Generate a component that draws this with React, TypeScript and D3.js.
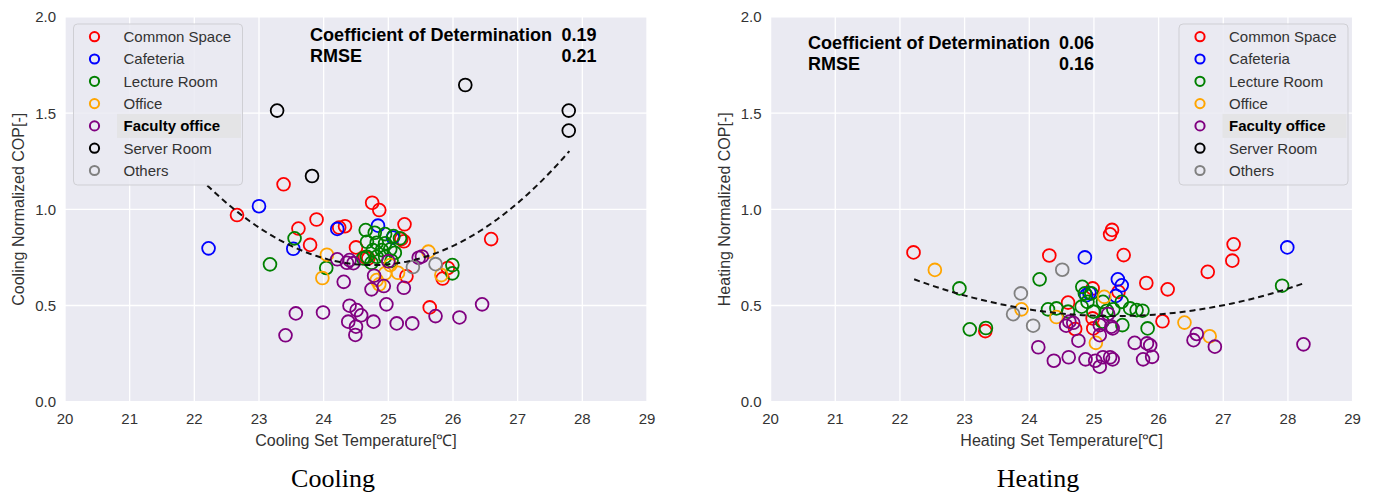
import React from "react";
import * as d3 from "d3";

type Pt = [number, number];

const categories = ["Common Space", "Cafeteria", "Lecture Room", "Office", "Faculty office", "Server Room", "Others"];
const categoryColors = ["#ff0000", "#0000ff", "#008000", "#ffa500", "#800080", "#000000", "#808080"];
const highlightedCategory = "Faculty office";

const xTicks = [20, 21, 22, 23, 24, 25, 26, 27, 28, 29];
const yTicks = [0, 0.5, 1, 1.5, 2];

// Cooling panel points, per category (set temperature, normalized COP)
const coolCommonSpace: Pt[] = [
  [22.66, 0.97], [23.38, 1.13], [23.61, 0.9], [23.79, 0.815], [23.89, 0.947], [24.24, 0.905],
  [24.33, 0.912], [24.5, 0.802], [24.69, 0.745], [24.64, 0.752], [24.75, 1.034], [24.86, 0.996],
  [25.25, 0.922], [25.24, 0.834], [25.2, 0.845], [25.28, 0.652], [25.64, 0.49], [25.84, 0.64],
  [25.92, 0.695], [26.59, 0.845],
];
const coolCafeteria: Pt[] = [[22.22, 0.797], [23.0, 1.016], [23.53, 0.795], [24.21, 0.898], [24.84, 0.915], [25.07, 0.853]];
const coolLectureRoom: Pt[] = [
  [23.17, 0.714], [23.55, 0.849], [24.04, 0.695], [25.99, 0.71], [25.99, 0.667],
  [24.65, 0.892], [24.79, 0.878], [24.95, 0.871], [25.08, 0.861], [25.18, 0.849], [24.67, 0.831],
  [24.82, 0.826], [24.95, 0.823], [24.76, 0.788], [24.9, 0.788], [25.03, 0.792], [25.1, 0.774],
  [24.67, 0.753], [24.82, 0.753], [24.95, 0.753], [25.05, 0.732], [24.74, 0.722], [24.61, 0.745],
];
const coolOffice: Pt[] = [
  [23.98, 0.643], [24.05, 0.764], [24.82, 0.632], [24.86, 0.61], [24.95, 0.667], [25.03, 0.71],
  [25.15, 0.67], [25.62, 0.78], [25.82, 0.658],
];
const coolFacultyOffice: Pt[] = [
  [23.41, 0.345], [23.57, 0.459], [23.99, 0.464], [24.21, 0.74], [24.31, 0.623], [24.36, 0.722],
  [24.4, 0.736], [24.4, 0.499], [24.46, 0.72], [24.38, 0.416], [24.5, 0.39], [24.49, 0.347],
  [24.51, 0.476], [24.58, 0.449], [24.74, 0.584], [24.77, 0.416], [24.78, 0.655], [24.93, 0.601],
  [24.97, 0.506], [25.0, 0.73], [25.13, 0.407], [25.24, 0.592], [25.37, 0.407], [25.47, 0.748],
  [25.52, 0.755], [25.73, 0.445], [26.1, 0.438], [26.45, 0.506],
];
const coolServerRoom: Pt[] = [[23.28, 1.513], [23.82, 1.173], [26.19, 1.646], [27.79, 1.513], [27.79, 1.409]];
const coolOthers: Pt[] = [[25.38, 0.7], [25.73, 0.715]];

// Heating panel points
const heatCommonSpace: Pt[] = [
  [22.21, 0.776], [23.32, 0.367], [24.31, 0.76], [24.6, 0.515], [24.71, 0.378], [24.98, 0.589],
  [24.98, 0.433], [24.99, 0.381], [25.25, 0.87], [25.28, 0.893], [25.38, 0.571], [25.46, 0.762],
  [25.81, 0.617], [26.06, 0.418], [26.14, 0.584], [26.76, 0.675], [27.14, 0.733], [27.16, 0.818],
];
const heatCafeteria: Pt[] = [[24.86, 0.75], [24.88, 0.553], [24.93, 0.565], [25.34, 0.55], [25.37, 0.636], [25.43, 0.605], [27.99, 0.802]];
const heatLectureRoom: Pt[] = [
  [22.92, 0.589], [23.08, 0.376], [23.33, 0.383], [24.16, 0.636], [24.29, 0.48], [24.42, 0.485],
  [24.6, 0.468], [24.81, 0.494], [24.82, 0.597], [24.86, 0.563], [24.9, 0.519], [24.96, 0.563],
  [24.99, 0.468], [25.13, 0.416], [25.14, 0.519], [25.2, 0.473], [25.3, 0.48], [25.43, 0.519],
  [25.44, 0.398], [25.56, 0.485], [25.66, 0.476], [25.75, 0.473], [25.83, 0.381], [27.91, 0.603],
];
const heatOffice: Pt[] = [[22.54, 0.685], [23.88, 0.48], [24.42, 0.44], [25.03, 0.306], [25.16, 0.545], [26.4, 0.411], [26.79, 0.34]];
const heatFacultyOffice: Pt[] = [
  [24.14, 0.283], [24.38, 0.213], [24.57, 0.395], [24.61, 0.231], [24.62, 0.416], [24.68, 0.41],
  [24.76, 0.317], [24.87, 0.22], [25.02, 0.213], [25.09, 0.182], [25.09, 0.346], [25.09, 0.398],
  [25.14, 0.231], [25.22, 0.456], [25.25, 0.231], [25.27, 0.39], [25.29, 0.22], [25.29, 0.381],
  [25.63, 0.306], [25.76, 0.22], [25.82, 0.303], [25.87, 0.293], [25.9, 0.233], [26.54, 0.32],
  [26.59, 0.352], [26.87, 0.286], [28.24, 0.298],
];
const heatServerRoom: Pt[] = [];
const heatOthers: Pt[] = [[23.75, 0.455], [23.87, 0.563], [24.06, 0.395], [24.51, 0.686]];

// quadratic fits y = a (x - h)^2 + k over [from, to]
const coolFit = { a: 0.0637, h: 24.75, k: 0.71, from: 22.2, to: 27.8 };
const heatFit = { a: 0.0199, h: 25.32, k: 0.445, from: 22.22, to: 28.24 };

const coolStats = [["Coefficient of Determination", "0.19"], ["RMSE", "0.21"]];
const heatStats = [["Coefficient of Determination", "0.06"], ["RMSE", "0.16"]];

const SANS = "'Liberation Sans', Arial, sans-serif";
const yScale = d3.scaleLinear().domain([0, 2]).range([401.7, 16.9]);

interface PanelProps {
  x0: number;
  x1: number;
  series: Pt[][];
  fit: { a: number; h: number; k: number; from: number; to: number };
  stats: string[][];
  statsX: number;
  statsRight: number;
  statsY: number;
  legendX: number;
  xTitle: string;
  yTitle: string;
  yTitleX: number;
  caption: string;
  captionX: number;
}

const Panel: React.FC<PanelProps> = (p) => {
  const x = d3.scaleLinear().domain([20, 29]).range([p.x0, p.x1]);
  const y = yScale;
  const top = y(2);
  const bottom = y(0);
  const cx = (p.x0 + p.x1) / 2;

  const fitXs = d3.range(0, 61).map((i) => p.fit.from + ((p.fit.to - p.fit.from) * i) / 60);
  const line = d3
    .line<number>()
    .x((d) => x(d))
    .y((d) => y(p.fit.a * (d - p.fit.h) ** 2 + p.fit.k));

  const lx = p.legendX;
  const rowY = (i: number) => 36.7 + i * 22.3;

  return (
    <g>
      <rect x={p.x0} y={top} width={p.x1 - p.x0} height={bottom - top} fill="#eaeaf2" />
      {xTicks.map((t) => (
        <line key={"gx" + t} x1={x(t)} x2={x(t)} y1={top} y2={bottom} stroke="#ffffff" strokeWidth={1.3} />
      ))}
      {yTicks.map((t) => (
        <line key={"gy" + t} x1={p.x0} x2={p.x1} y1={y(t)} y2={y(t)} stroke="#ffffff" strokeWidth={1.3} />
      ))}
      {xTicks.map((t) => (
        <text key={"tx" + t} x={x(t)} y={424} textAnchor="middle" fontSize={15} fill="#333" fontFamily={SANS}>
          {t}
        </text>
      ))}
      {yTicks.map((t) => (
        <text key={"ty" + t} x={p.x0 - 9} y={y(t) + 5.5} textAnchor="end" fontSize={15} fill="#333" fontFamily={SANS}>
          {t.toFixed(1)}
        </text>
      ))}
      <text x={cx} y={446} textAnchor="middle" fontSize={16} fill="#333" fontFamily={SANS}>
        {p.xTitle}
      </text>
      <text
        transform={`translate(${p.yTitleX},${(top + bottom) / 2}) rotate(-90)`}
        textAnchor="middle"
        fontSize={16}
        fill="#333"
        fontFamily={SANS}
      >
        {p.yTitle}
      </text>
      <text x={p.captionX} y={487} textAnchor="middle" fontSize={26} fill="#000" fontFamily="'Liberation Serif', 'Times New Roman', serif">
        {p.caption}
      </text>

      {/* points */}
      {p.series.map((pts, ci) =>
        pts.map((d, i) => (
          <circle
            key={ci + "-" + i}
            cx={x(d[0])}
            cy={y(d[1])}
            r={6.4}
            fill="none"
            stroke={categoryColors[ci]}
            strokeWidth={1.8}
          />
        ))
      )}

      <path d={line(fitXs) || ""} fill="none" stroke="#111" strokeWidth={2} strokeDasharray="6,4" />

      {/* stats */}
      {p.stats.map((s, i) => (
        <g key={"st" + i} fontFamily={SANS} fontWeight="bold" fontSize={18.5} fill="#000">
          <text x={p.statsX} y={p.statsY + i * 21} textLength={i === 0 ? 242 : 52} lengthAdjust="spacingAndGlyphs">
            {s[0]}
          </text>
          <text x={p.statsRight - 35} y={p.statsY + i * 21} textLength={35} lengthAdjust="spacingAndGlyphs">
            {s[1]}
          </text>
        </g>
      ))}

      {/* legend */}
      <rect x={lx} y={24} width={169} height={161} rx={4} fill="#eaeaf2" fillOpacity={0.85} stroke="#cfcfd4" strokeWidth={1} />
      {categories.map((c, i) => (
        <g key={"lg" + c}>
          {c === highlightedCategory && (
            <rect x={lx + 43.5} y={rowY(i) - 12} width={124} height={24} fill="#e4e4e6" />
          )}
          <circle cx={lx + 21} cy={rowY(i)} r={4.6} fill="none" stroke={categoryColors[i]} strokeWidth={2} />
          <text
            x={lx + 50}
            y={rowY(i) + 5.3}
            fontSize={15}
            fontFamily={SANS}
            fill={c === highlightedCategory ? "#000" : "#333"}
            fontWeight={c === highlightedCategory ? "bold" : "normal"}
          >
            {c}
          </text>
        </g>
      ))}
    </g>
  );
};

export default function App() {
  return (
    <svg
      width={1375}
      height={493}
      style={{ position: "absolute", left: 0, top: 0, background: "#ffffff" }}
    >
      <rect width={1375} height={493} fill="#ffffff" />
      <Panel
        x0={65}
        x1={647}
        series={[coolCommonSpace, coolCafeteria, coolLectureRoom, coolOffice, coolFacultyOffice, coolServerRoom, coolOthers]}
        fit={coolFit}
        stats={coolStats}
        statsX={310}
        statsRight={596.5}
        statsY={40.5}
        legendX={73.5}
        xTitle="Cooling Set Temperature[℃]"
        yTitle="Cooling Normalized COP[-]"
        yTitleX={24}
        caption="Cooling"
        captionX={333}
      />
      <Panel
        x0={770.6}
        x1={1352.6}
        series={[heatCommonSpace, heatCafeteria, heatLectureRoom, heatOffice, heatFacultyOffice, heatServerRoom, heatOthers]}
        fit={heatFit}
        stats={heatStats}
        statsX={808}
        statsRight={1094}
        statsY={49}
        legendX={1179}
        xTitle="Heating Set Temperature[℃]"
        yTitle="Heating Normalized COP[-]"
        yTitleX={730}
        caption="Heating"
        captionX={1038}
      />
    </svg>
  );
}
